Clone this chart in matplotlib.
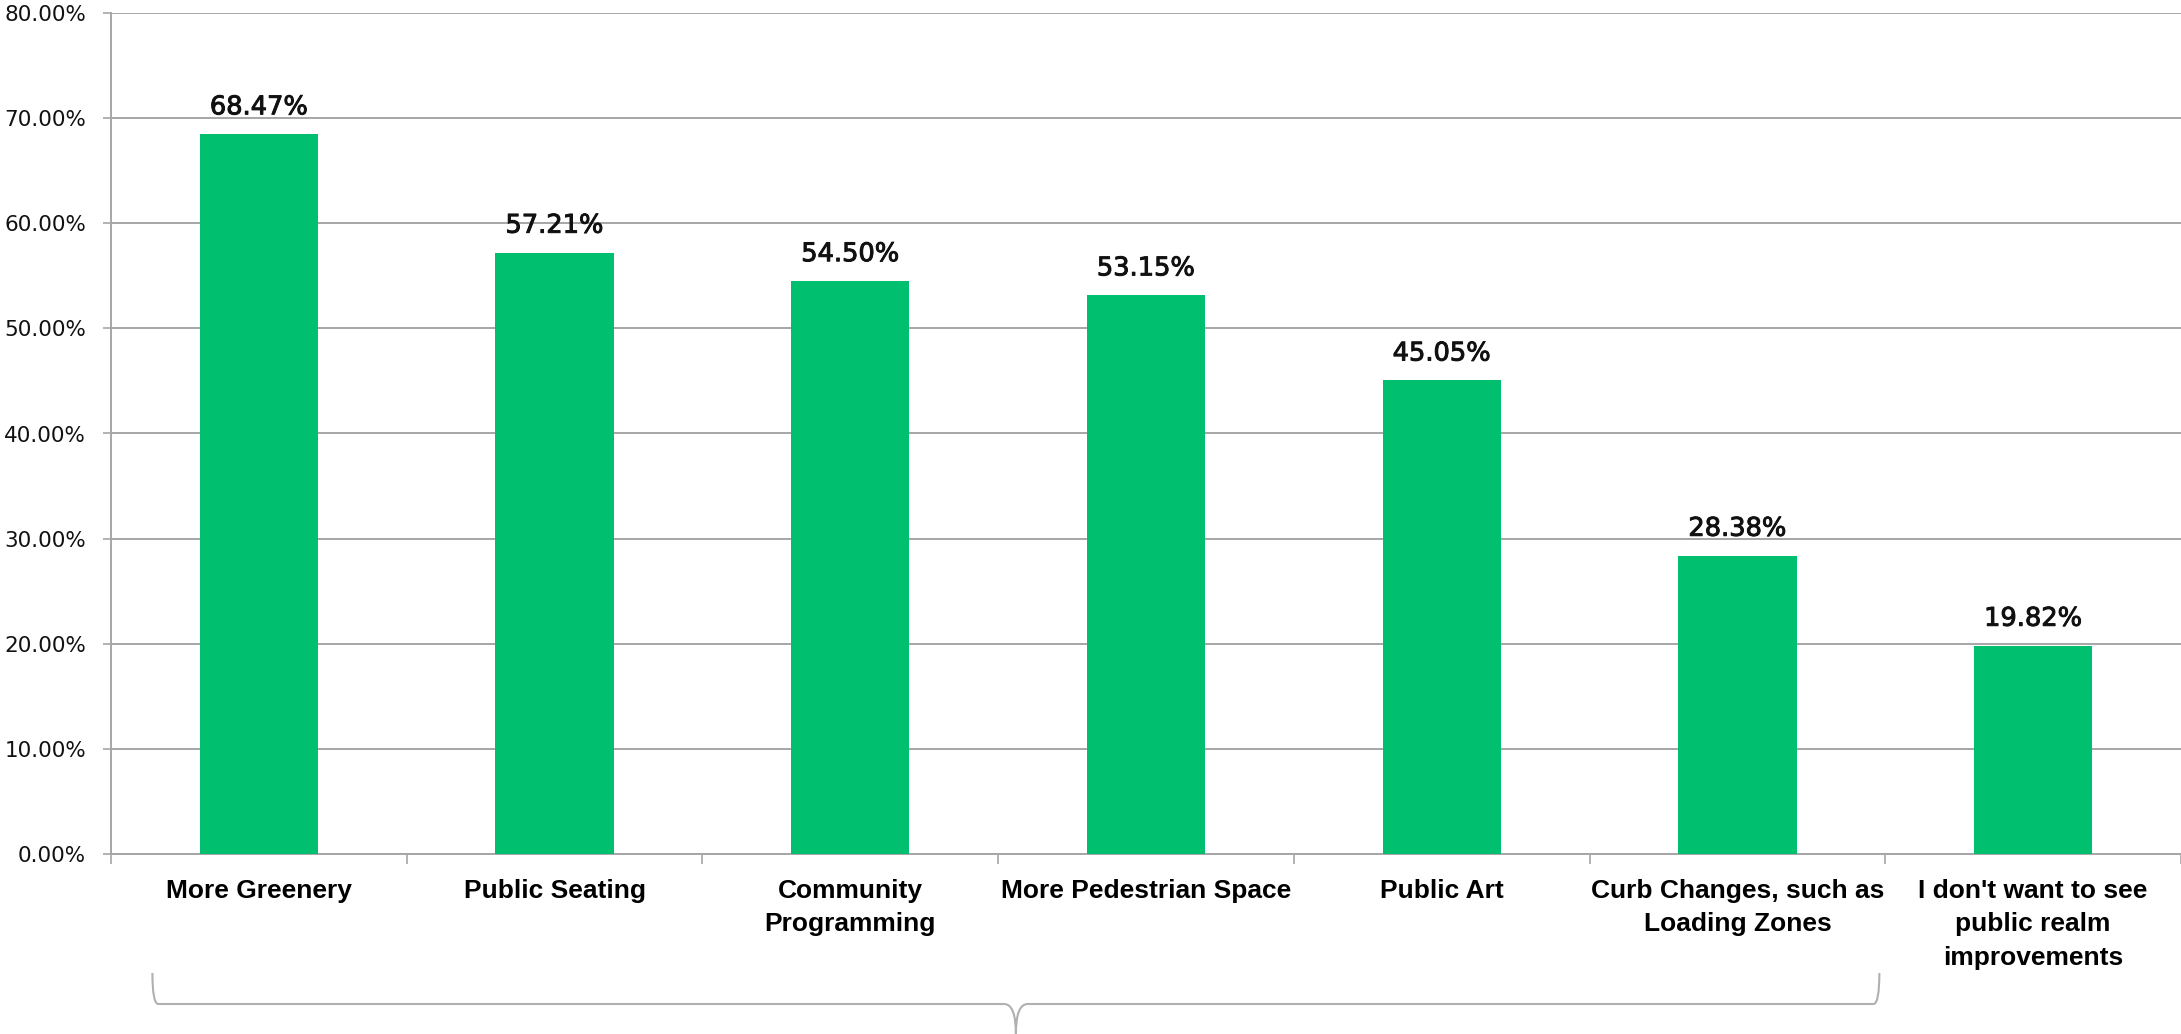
import matplotlib
matplotlib.use("Agg")
import matplotlib.pyplot as plt
import matplotlib.patheffects as pe
from matplotlib.path import Path
from matplotlib.patches import PathPatch
from matplotlib import transforms

categories = ["More Greenery", "Public Seating", "Community\nProgramming",
              "More Pedestrian Space", "Public Art",
              "Curb Changes, such as\nLoading Zones",
              "I don't want to see\npublic realm\nimprovements"]
values = [68.47, 57.21, 54.50, 53.15, 45.05, 28.38, 19.82]
yticks = [0, 10, 20, 30, 40, 50, 60, 70, 80]

W, H = 2181, 1034
fig = plt.figure(figsize=(W / 100, H / 100), dpi=100)
ax = fig.add_axes([111 / W, (H - 854) / H, (2181 - 111) / W, 841 / H])

grid_c = "#a6a6a6"
x = range(len(categories))
ax.bar(x, values, width=0.4, color="#00BF6F", zorder=3)

# value labels, a touch heavier than regular
for i, v in enumerate(values):
    ax.annotate(f"{v:.2f}%", (i, v), xytext=(0, 10), textcoords="offset points",
                ha="center", va="bottom", fontsize=18.5, family="DejaVu Sans",
                color="#111111",
                path_effects=[pe.withStroke(linewidth=0.7, foreground="#111111")])

ax.set_xlim(-0.5, len(categories) - 0.5)
ax.set_ylim(0, 80)
ax.set_yticks(yticks)
ax.set_yticklabels([f"{t:.2f}%" for t in yticks], family="DejaVu Sans",
                   fontsize=15.5, color="#111111")
ax.yaxis.grid(True, color=grid_c, linewidth=1.4, zorder=0)
ax.tick_params(axis="y", length=6, width=1.2, color=grid_c, pad=12)

ax.set_xticks([i - 0.5 for i in range(len(categories) + 1)], minor=False)
ax.set_xticklabels([])
ax.set_xticks(list(x), minor=True)
ax.set_xticklabels(categories, minor=True, family="Liberation Sans",
                   fontweight="bold", fontsize=19, linespacing=1.5,
                   va="top", ha="center")
ax.tick_params(axis="x", which="minor", length=0, pad=18)
ax.tick_params(axis="x", which="major", length=7, width=1.2, color=grid_c)

for s in ["top", "right"]:
    ax.spines[s].set_visible(False)
for s in ["left", "bottom"]:
    ax.spines[s].set_color(grid_c)
    ax.spines[s].set_linewidth(1.4)

# brace under the first six categories
trans = transforms.blended_transform_factory(ax.transData, fig.transFigure)
x0, x1 = -0.36, 5.48
xc = (x0 + x1) / 2
yt, yh, yb = 1 - 973 / H, 1 - 1004 / H, 1 - 1034 / H
d1, d2 = 0.02, 0.04
verts = [(x0, yt), (x0, yh), (x0 + d1, yh), (xc - d2, yh), (xc, yh), (xc, yb),
         (xc, yh), (xc + d2, yh), (x1 - d1, yh), (x1, yh), (x1, yt)]
codes = [Path.MOVETO, Path.CURVE3, Path.CURVE3, Path.LINETO, Path.CURVE3, Path.CURVE3,
         Path.CURVE3, Path.CURVE3, Path.LINETO, Path.CURVE3, Path.CURVE3]
fig.add_artist(PathPatch(Path(verts, codes), transform=trans, fill=False,
                         edgecolor="#b0b0b0", linewidth=1.5, clip_on=False))

fig.savefig("out.png", dpi=100)
